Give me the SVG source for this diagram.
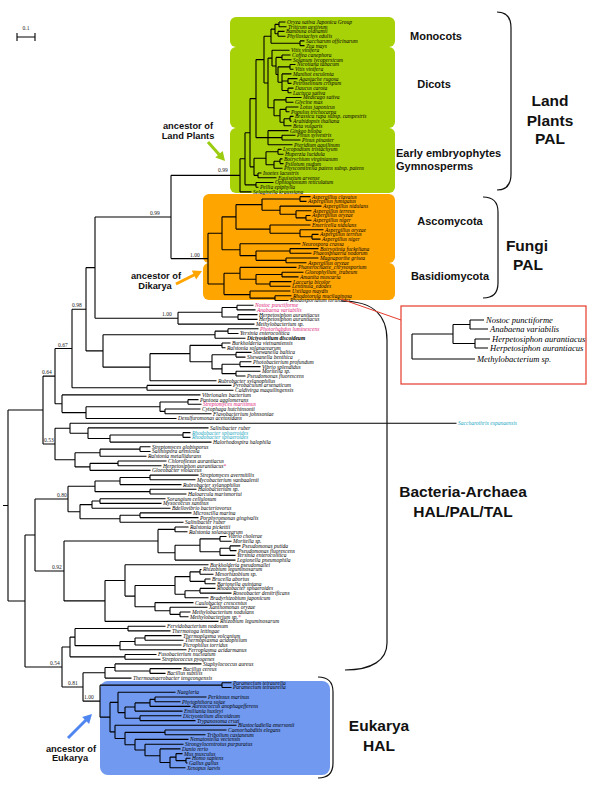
<svg xmlns="http://www.w3.org/2000/svg" width="600" height="786" viewBox="0 0 600 786">
<style>
.ln{fill:none;stroke:#000;stroke-width:1.1}
.lf{font-family:"Liberation Serif","Times New Roman",serif;font-style:italic;font-size:5.5px;fill:#000}
.pk{fill:#e0247a}
.cy{fill:#1aa7c2}
.bs{font-family:"Liberation Serif","Times New Roman",serif;font-size:5.5px;fill:#222}
.cl{font-family:"Liberation Sans",Arial,sans-serif;font-weight:bold;font-size:11px;fill:#111}
.big{font-family:"Liberation Sans",Arial,sans-serif;font-weight:bold;font-size:15.5px;fill:#111;text-anchor:middle}
.anc{font-family:"Liberation Sans",Arial,sans-serif;font-weight:bold;font-size:9.3px;fill:#111;text-anchor:middle}
.br{fill:none;stroke:#111;stroke-width:1.2}
.in{font-family:"Liberation Serif","Times New Roman",serif;font-style:italic;font-size:8.5px;fill:#000}
</style>
<rect width="600" height="786" fill="#fff"/>
<g id="boxes">
<rect x="230" y="17" width="165" height="30" rx="6" fill="#a8d208"/>
<rect x="230" y="47" width="165" height="81" rx="6" fill="#a8d208"/>
<rect x="230" y="128" width="165" height="65" rx="6" fill="#a8d208"/>
<rect x="203" y="194" width="192" height="69" rx="6" fill="#ffa500"/>
<rect x="203" y="263" width="192" height="37" rx="6" fill="#ffa500"/>
<rect x="100" y="681" width="230" height="94" rx="8" fill="#7099ef"/>
</g>
<g id="scale">
<path class="ln" d="M17 37H35M17 33V41M35 33V41"/>
<text class="bs" x="26" y="30" text-anchor="middle">0.1</text>
</g>
<g id="connectors">
<path class="ln" d="M279 22V26.7M279 22H285.5M279 26.7H286.5M278 31.4V36.2M278 31.4H284.5M278 36.2H285.5M275 24.35V33.8M275 24.35H279M275 33.8H278M300 40.9V45.6M300 40.9H304.5M300 45.6H304.5M271 29.1V43.25M271 29.1H275M271 43.25H300M282 55V59.8M282 55H290.5M282 59.8H291.5M290 64.5V69.2M290 64.5H295.5M290 69.2H293.5M288 78.6V83.4M288 78.6H297.5M288 83.4H291.5M288 88.1V92.8M288 88.1H293.5M288 92.8H291.5M282 73.9V90.45M282 73.9H291.5M282 81H288M282 90.45H288M278 66.85V82.2M278 66.85H290M278 82.2H282M276 57.4V74.5M276 57.4H282M276 74.5H278M272 50.3V65.95M272 50.3H289.5M272 65.95H276M286 97.5V102.2M286 97.5H301.5M286 102.2H293.5M286 107V111.7M286 107H298.5M286 111.7H289.5M290 116.4V121.1M290 116.4H293.5M290 121.1H291.5M284 118.75V125.8M284 118.75H290M284 125.8H291.5M280 109.35V122.3M280 109.35H286M280 122.3H284M274 99.85V115.8M274 99.85H286M274 115.8H280M268 58.1V107.8M268 58.1H272M268 107.8H274M264 36.2V82.95M264 36.2H271M264 82.95H268M282 135.3V140M282 135.3H295.5M282 140H300.5M268 130.6V144.7M268 130.6H288.5M268 137.65H282M268 144.7H292.5M256 59.6V137.65M256 59.6H264M256 137.65H268M278 149.4V154.2M278 149.4H281.5M278 154.2H283.5M280 158.9V163.6M280 158.9H282.5M280 163.6H283.5M274 161.25V168.3M274 161.25H280M274 168.3H282.5M266 151.8V164.8M266 151.8H278M266 164.8H274M258 173V177.8M258 173H261.5M258 177.8H276.5M254 158.3V175.4M254 158.3H266M254 175.4H258M250 98.6V166.85M250 98.6H256M250 166.85H254M256 182.5V187.2M256 182.5H273.5M256 187.2H258.5M245 132.7V184.85M245 132.7H250M245 184.85H256M240 158.8V191.9M240 158.8H245M240 191.9H251.5"/>
<path class="ln" d="M300 196.6V201.4M300 196.6H310.5M300 201.4H306.5M306 215.5V220.2M306 215.5H310.5M306 220.2H311.5M296 210.8V217.85M296 210.8H311.5M296 217.85H306M280 206.1V214.3M280 206.1H321.5M280 214.3H296M262 199V210.2M262 199H300M262 210.2H280M312 234.4V239.1M312 234.4H318.5M312 239.1H320.5M300 229.7V236.75M300 229.7H323.5M300 236.75H312M270 225V233.2M270 225H310.5M270 233.2H300M236 204.6V229.1M236 204.6H262M236 229.1H270M290 248.6V253.3M290 248.6H318.5M290 253.3H311.5M286 258V262.7M286 258H318.5M286 262.7H306.5M256 250.95V260.35M256 250.95H290M256 260.35H286M240 243.8V255.65M240 243.8H300.5M240 255.65H256M222 216.85V249.7M222 216.85H236M222 249.7H240M282 272.2V276.9M282 272.2H303.5M282 276.9H298.5M270 281.6V286.3M270 281.6H291.5M270 286.3H290.5M256 274.55V283.95M256 274.55H282M256 283.95H270M240 267.4V279.25M240 267.4H296.5M240 279.25H256M275 295.8V300.5M275 295.8H291.5M275 300.5H288.5M250 291V298.15M250 291H290.5M250 298.15H275M224 273.3V294.6M224 273.3H240M224 294.6H250M208 233.3V283.95M208 233.3H222M208 283.95H224M171 175.35V258.6M171 175.35H240M171 258.6H208"/>
<path class="ln" d="M237 305.2V309.9M237 305.2H253.5M237 309.9H255.5M238 314.6V319.4M238 314.6H257.5M238 319.4H257.5M222 307.55V317M222 307.55H237M222 317H238M178 312.3V324.1M178 312.3H222M178 324.1H254.5M95 216.98V318.2M95 216.98H171M95 318.2H178M228 328.8V333.5M228 328.8H258.5M228 333.5H238.5M215 331.15V338.2M215 331.15H228M215 338.2H245.5M222 343V347.7M222 343H230.5M222 347.7H225.5M236 352.4V357.1M236 352.4H251.5M236 357.1H245.5M240 361.8V366.6M240 361.8H251.5M240 366.6H260.5M236 371.3V376M236 371.3H260.5M236 376H245.5M222 364.2V373.65M222 364.2H240M222 373.65H236M212 354.75V368.9M212 354.75H236M212 368.9H222M190 345.35V361.8M190 345.35H222M190 361.8H212M150 353.6V380.7M150 353.6H190M150 380.7H216.5M103 334.7V367.15M103 334.7H215M103 367.15H150M86 267.6V350.9M86 267.6H95M86 350.9H103M147 385.4V390.2M147 385.4H231.5M147 390.2H233.5M72 309.25V387.8M72 309.25H86M72 387.8H147M188 399.6V404.3M188 399.6H198.5M188 404.3H201.5M165 409V413.8M165 409H200.5M165 413.8H211.5M160 401.95V411.4M160 401.95H188M160 411.4H165M86 406.7V418.5M86 406.7H160M86 418.5H176.5M62 394.9V412.6M62 394.9H200.5M62 412.6H86M55 348.5V403.75M55 348.5H72M55 403.75H62M183 432.6V437.4M183 432.6H190.5M183 437.4H190.5M110 435V442.1M110 435H183M110 442.1H211.5M88 427.9V438.55M88 427.9H208.5M88 438.55H110M70 423.2V433.2M70 423.2H456.5M70 433.2H88M140 446.8V451.5M140 446.8H150.5M140 451.5H150.5M100 449.15V456.2M100 449.15H140M100 456.2H146.5M118 461V465.7M118 461H166.5M118 465.7H161.5M90 463.35V470.4M90 463.35H118M90 470.4H150.5M75 452.7V466.9M75 452.7H100M75 466.9H90M55 428.2V459.8M55 428.2H70M55 459.8H75M43 376.1V444M43 376.1H55M43 444H55"/>
<path class="ln" d="M150 475.1V479.8M150 475.1H198.5M150 479.8H195.5M120 477.45V484.6M120 477.45H150M120 484.6H181.5M150 489.3V494M150 489.3H196.5M150 494H186.5M95 481V491.65M95 481H120M95 491.65H150M100 498.7V503.4M100 498.7H165.5M100 503.4H161.5M92 501.05V508.2M92 501.05H100M92 508.2H170.5M140 512.9V517.6M140 512.9H191.5M140 517.6H198.5M120 515.25V522.3M120 515.25H140M120 522.3H183.5M80 504.6V518.8M80 504.6H92M80 518.8H120M68 486.3V511.7M68 486.3H95M68 511.7H80M175 527V531.8M175 527H188.5M175 531.8H187.5M220 536.5V541.2M220 536.5H226.5M220 541.2H231.5M230 545.9V550.6M230 545.9H240.5M230 550.6H236.5M220 548.25V555.4M220 548.25H230M220 555.4H235.5M200 538.85V551.8M200 538.85H220M200 551.8H220M175 545.3V560.1M175 545.3H200M175 560.1H235.5M158 529.4V552.7M158 529.4H175M158 552.7H175M200 569.5V574.2M200 569.5H201.5M200 574.2H213.5M205 579V583.7M205 579H210.5M205 583.7H215.5M190 571.85V581.35M190 571.85H200M190 581.35H205M200 588.4V593.1M200 588.4H215.5M200 593.1H231.5M185 590.75V597.8M185 590.75H200M185 597.8H208.5M175 576.6V594.3M175 576.6H190M175 594.3H185M180 612V616.7M180 612H190.5M180 616.7H188.5M170 607.3V614.35M170 607.3H207.5M170 614.35H180M155 602.6V610.8M155 602.6H193.5M155 610.8H170M135 585.45V606.7M135 585.45H175M135 606.7H155M125 564.8V596.1M125 564.8H208.5M125 596.1H135M105 580.45V621.4M105 580.45H125M105 621.4H218.5M64 541.05V600.9M64 541.05H158M64 600.9H105M35 499V571M35 499H68M35 571H64"/>
<path class="ln" d="M128 626.2V630.9M128 626.2H165.5M128 630.9H170.5M145 635.6V640.3M145 635.6H181.5M145 640.3H183.5M135 637.95V645M135 637.95H145M135 645H181.5M120 641.5V649.8M120 641.5H135M120 649.8H186.5M75 628.55V645.65M75 628.55H128M75 645.65H120M125 654.5V659.2M125 654.5H156.5M125 659.2H160.5M70 637.1V656.85M70 637.1H75M70 656.85H125M150 668.6V673.4M150 668.6H181.5M150 673.4H165.5M115 663.9V671M115 663.9H201.5M115 671H150M105 667.45V678.1M105 667.45H115M105 678.1H131.5M222 682.8V687.5M222 682.8H231.5M222 687.5H231.5M155 697V701.7M155 697H206.5M155 701.7H180.5M150 699.35V706.4M150 699.35H155M150 706.4H190.5M135 702.9V711.1M135 702.9H150M135 711.1H182.5M140 715.8V720.6M140 715.8H181.5M140 720.6H195.5M125 707V718.2M125 707H135M125 718.2H140M118 692.2V712.6M118 692.2H175.5M118 712.6H125M186 758.3V763M186 758.3H190.5M186 763H187.5M176 753.6V760.65M176 753.6H182.5M176 760.65H186M170 757.1V767.8M170 757.1H176M170 767.8H185.5M160 748.9V762.45M160 748.9H180.5M160 762.45H170M145 744.2V755.7M145 744.2H183.5M145 755.7H160M135 739.4V749.95M135 739.4H188.5M135 749.95H145M165 730V734.7M165 730H226.5M165 734.7H205.5M125 732.35V744.7M125 732.35H165M125 744.7H135M115 725.3V738.5M115 725.3H236.5M115 738.5H125M110 702.4V731.9M110 702.4H118M110 731.9H115M100 685.15V717.15M100 685.15H222M100 717.15H110M83 672.8V701.15M83 672.8H105M83 701.15H100M62 646.95V686.95M62 646.95H70M62 686.95H83M25 535V666.95M25 535H35M25 666.95H62M8 410.05V600.95M8 410.05H43M8 600.95H25M3 505.5H8"/>
</g>
<g id="support">
<text class="bs" x="218" y="172">0.99</text>
<text class="bs" x="150" y="214.5">0.99</text>
<text class="bs" x="190" y="256.5">1.00</text>
<text class="bs" x="162" y="315.5">1.00</text>
<text class="bs" x="72" y="307">0.98</text>
<text class="bs" x="58" y="346.5">0.67</text>
<text class="bs" x="42" y="374">0.64</text>
<text class="bs" x="44" y="442">0.53</text>
<text class="bs" x="57" y="497">0.80</text>
<text class="bs" x="52" y="569">0.92</text>
<text class="bs" x="50" y="665">0.54</text>
<text class="bs" x="68" y="685">0.81</text>
<text class="bs" x="84" y="699">1.00</text>
</g>
<g id="land-plants">
<text class="lf" x="287" y="23.9">Oryza sativa Japonica Group</text>
<text class="lf" x="288" y="28.6">Triticum aestivum</text>
<text class="lf" x="286" y="33.3">Bambusa oldhamii</text>
<text class="lf" x="287" y="38.1">Phyllostachys edulis</text>
<text class="lf" x="306" y="42.8">Saccharum officinarum</text>
<text class="lf" x="306" y="47.5">Zea mays</text>
<text class="lf" x="291" y="52.2">Vitis vinifera</text>
<text class="lf" x="292" y="56.9">Coffea canephora</text>
<text class="lf" x="293" y="61.7">Solanum lycopersicum</text>
<text class="lf" x="297" y="66.4">Nicotiana tabacum</text>
<text class="lf" x="295" y="71.1">Vitis vinifera</text>
<text class="lf" x="293" y="75.8">Manihot esculenta</text>
<text class="lf" x="299" y="80.5">Agastache rugosa</text>
<text class="lf" x="293" y="85.3">Petroselinum crispum</text>
<text class="lf" x="295" y="90">Daucus carota</text>
<text class="lf" x="293" y="94.7">Lactuca sativa</text>
<text class="lf" x="303" y="99.4">Medicago sativa</text>
<text class="lf" x="295" y="104.1">Glycine max</text>
<text class="lf" x="300" y="108.9">Lotus japonicus</text>
<text class="lf" x="291" y="113.6">Populus trichocarpa</text>
<text class="lf" x="295" y="118.3">Brassica rapa subsp. campestris</text>
<text class="lf" x="293" y="123">Arabidopsis thaliana</text>
<text class="lf" x="293" y="127.7">Beta vulgaris</text>
<text class="lf" x="290" y="132.5">Ginkgo biloba</text>
<text class="lf" x="297" y="137.2">Pinus sylvestris</text>
<text class="lf" x="302" y="141.9">Pinus pinaster</text>
<text class="lf" x="294" y="146.6">Pteridium aquilinum</text>
<text class="lf" x="283" y="151.3">Lycopodium tristachyum</text>
<text class="lf" x="285" y="156.1">Huperzia lucidula</text>
<text class="lf" x="284" y="160.8">Botrychium virginianum</text>
<text class="lf" x="285" y="165.5">Psilotum nudum</text>
<text class="lf" x="284" y="170.2">Physcomitrella patens subsp. patens</text>
<text class="lf" x="263" y="174.9">Isoetes lacustris</text>
<text class="lf" x="278" y="179.7">Equisetum arvense</text>
<text class="lf" x="275" y="184.4">Ophioglossum reticulatum</text>
<text class="lf" x="260" y="189.1">Pellia epiphylla</text>
<text class="lf" x="253" y="193.8">Selaginella kraussiana</text>
<text class="cl" x="436" y="40" text-anchor="middle">Monocots</text>
<text class="cl" x="434" y="88" text-anchor="middle">Dicots</text>
<text class="cl" x="396" y="157">Early embryophytes</text>
<text class="cl" x="396" y="170">Gymnosperms</text>
<path class="br" d="M497 12Q511 12 511 28V174Q511 190 497 190"/>
<text class="big" x="550" y="105.5">Land</text>
<text class="big" x="550" y="125.5">Plants</text>
<text class="big" x="550" y="143.5">PAL</text>
<text class="anc" x="188" y="128.5">ancestor of</text>
<text class="anc" x="188" y="139">Land Plants</text>
<path d="M208 142L220 155.5" stroke="#9ccc10" stroke-width="3" fill="none"/>
<polygon points="225,161 222.7,151 215.3,157.6" fill="#9ccc10"/>
</g>
<g id="fungi">
<text class="lf" x="312" y="198.5">Aspergillus clavatus</text>
<text class="lf" x="308" y="203.3">Aspergillus fumigatus</text>
<text class="lf" x="323" y="208">Aspergillus nidulans</text>
<text class="lf" x="313" y="212.7">Aspergillus terreus</text>
<text class="lf" x="312" y="217.4">Aspergillus oryzae</text>
<text class="lf" x="313" y="222.1">Aspergillus niger</text>
<text class="lf" x="312" y="226.9">Emericella nidulans</text>
<text class="lf" x="325" y="231.6">Aspergillus oryzae</text>
<text class="lf" x="320" y="236.3">Aspergillus terreus</text>
<text class="lf" x="322" y="241">Aspergillus niger</text>
<text class="lf" x="302" y="245.7">Neurospora crassa</text>
<text class="lf" x="320" y="250.5">Botryotinia fuckeliana</text>
<text class="lf" x="313" y="255.2">Phaeosphaeria nodorum</text>
<text class="lf" x="320" y="259.9">Magnaporthe grisea</text>
<text class="lf" x="308" y="264.6">Aspergillus oryzae</text>
<text class="lf" x="298" y="269.3">Phanerochaete_chrysosporium</text>
<text class="lf" x="305" y="274.1">Gloeophyllum_trabeum</text>
<text class="lf" x="300" y="278.8">Amanita muscaria</text>
<text class="lf" x="293" y="283.5">Laccaria bicolor</text>
<text class="lf" x="292" y="288.2">Lentinula_edodes</text>
<text class="lf" x="292" y="292.9">Ustilago maydis</text>
<text class="lf" x="293" y="297.7">Rhodotorula mucilaginosa</text>
<text class="lf" x="290" y="302.4">Rhodosporidium toruloides</text>
<text class="cl" x="450" y="225" text-anchor="middle">Ascomycota</text>
<text class="cl" x="450" y="280" text-anchor="middle">Basidiomycota</text>
<path class="br" d="M483 197Q498 197 498 212V283Q498 298 483 298"/>
<text class="big" x="527" y="250.5">Fungi</text>
<text class="big" x="528" y="269.5">PAL</text>
<text class="anc" x="156" y="278.5">ancestor of</text>
<text class="anc" x="155" y="288.5">Dikarya</text>
<path d="M176 284L195 274.5" stroke="#ffa500" stroke-width="3" fill="none"/>
<polygon points="202,271 196.2,279.5 191.8,270.5" fill="#ffa500"/>
</g>
<g id="bacteria">
<text class="lf pk" x="255" y="307.1">Nostoc punctiforme</text>
<text class="lf pk" x="257" y="311.8">Anabaena variabilis</text>
<text class="lf" x="259" y="316.5">Herpetosiphon aurantiacus</text>
<text class="lf" x="259" y="321.3">Herpetosiphon aurantiacus</text>
<text class="lf" x="256" y="326">Methylobacterium sp.</text>
<text class="lf pk" x="260" y="330.7">Photorhabdus luminescens</text>
<text class="lf" x="240" y="335.4">Yersinia enterocolitica</text>
<text class="lf" x="247" y="340.1" font-weight="bold">Dictyostelium discoideum</text>
<text class="lf" x="232" y="344.9">Burkholderia vietnamiensis</text>
<text class="lf" x="227" y="349.6">Ralstonia solanacearum</text>
<text class="lf" x="253" y="354.3">Shewanella baltica</text>
<text class="lf" x="247" y="359">Shewanella benthica</text>
<text class="lf" x="253" y="363.7">Photobacterium profundum</text>
<text class="lf" x="262" y="368.5">Vibrio splendidus</text>
<text class="lf" x="262" y="373.2">Moritella sp.</text>
<text class="lf" x="247" y="377.9">Pseudomonas fluorescens</text>
<text class="lf" x="218" y="382.6">Rubrobacter xylanophilus</text>
<text class="lf" x="233" y="387.3">Pyrobaculum arsenaticum</text>
<text class="lf" x="235" y="392.1">Caldivirga maquilingensis</text>
<text class="lf" x="202" y="396.8">Vibrionales bacterium</text>
<text class="lf" x="200" y="401.5">Pantoea agglomerans</text>
<text class="lf pk" x="203" y="406.2">Streptomyces maritimus</text>
<text class="lf" x="202" y="410.9">Cytophaga hutchinsonii</text>
<text class="lf" x="213" y="415.7">Flavobacterium johnsoniae</text>
<text class="lf" x="178" y="420.4">Desulfuromonas acetoxidans</text>
<text class="lf cy" x="458" y="425.1">Saccharothrix espanaensis</text>
<text class="lf" x="210" y="429.8">Salinibacter ruber</text>
<text class="lf cy" x="192" y="434.5">Rhodobacter sphaeroides</text>
<text class="lf cy" x="192" y="439.3">Rhodobacter sphaeroides</text>
<text class="lf" x="213" y="444">Halorhodospira halophila</text>
<text class="lf" x="152" y="448.7">Streptomyces globisporus</text>
<text class="lf" x="152" y="453.4">Salinispora arenicola</text>
<text class="lf" x="148" y="458.1">Ralstonia metallidurans</text>
<text class="lf" x="168" y="462.9">Chloroflexus aurantiacus</text>
<text class="lf" x="163" y="467.6">Herpetosiphon aurantiacus<tspan fill="#e0247a">*</tspan></text>
<text class="lf" x="152" y="472.3">Gloeobacter violaceus</text>
<text class="lf" x="200" y="477">Streptomyces avermitilis</text>
<text class="lf" x="197" y="481.7">Mycobacterium vanbaalenii</text>
<text class="lf" x="183" y="486.5">Rubrobacter xylanophilus</text>
<text class="lf" x="198" y="491.2">Halobacterium sp.</text>
<text class="lf" x="188" y="495.9">Haloarcula marismortui</text>
<text class="lf" x="167" y="500.6">Sorangium cellulosum</text>
<text class="lf" x="163" y="505.3">Myxococcus xanthus</text>
<text class="lf" x="172" y="510.1">Bdellovibrio bacteriovorus</text>
<text class="lf" x="193" y="514.8">Microscilla marina</text>
<text class="lf" x="200" y="519.5">Porphyromonas gingivalis</text>
<text class="lf" x="185" y="524.2">Salinibacter ruber</text>
<text class="lf" x="190" y="528.9">Ralstonia pickettii</text>
<text class="lf" x="189" y="533.7">Ralstonia solanacearum</text>
<text class="lf" x="228" y="538.4">Vibrio cholerae</text>
<text class="lf" x="233" y="543.1">Moritella sp.</text>
<text class="lf" x="242" y="547.8">Pseudomonas putida</text>
<text class="lf" x="238" y="552.5">Pseudomonas fluorescens</text>
<text class="lf" x="237" y="557.3">Yersinia enterocolitica</text>
<text class="lf" x="237" y="562">Legionella pneumophila</text>
<text class="lf" x="210" y="566.7">Burkholderia pseudomallei</text>
<text class="lf" x="203" y="571.4">Rhizobium leguminosarum</text>
<text class="lf" x="215" y="576.1">Mesorhizobium sp.</text>
<text class="lf" x="212" y="580.9">Brucella abortus</text>
<text class="lf" x="217" y="585.6">Bartonella quintana</text>
<text class="lf" x="217" y="590.3">Rhodobacter sphaeroides</text>
<text class="lf" x="233" y="595">Roseobacter denitrificans</text>
<text class="lf" x="210" y="599.7">Bradyrhizobium japonicum</text>
<text class="lf" x="195" y="604.5">Caulobacter crescentus</text>
<text class="lf" x="209" y="609.2">Xanthomonas oryzae</text>
<text class="lf" x="192" y="613.9">Methylobacterium nodulans</text>
<text class="lf" x="190" y="618.6">Methylobacterium sp.<tspan fill="#e0247a">*</tspan></text>
<text class="lf" x="220" y="623.3">Rhizobium leguminosarum</text>
<text class="lf" x="167" y="628.1">Fervidobacterium nodosum</text>
<text class="lf" x="172" y="632.8">Thermotoga lettingae</text>
<text class="lf" x="183" y="637.5">Thermoplasma volcanium</text>
<text class="lf" x="185" y="642.2">Thermoplasma acidophilum</text>
<text class="lf" x="183" y="646.9">Picrophilus torridus</text>
<text class="lf" x="188" y="651.7">Ferroplasma acidarmanus</text>
<text class="lf" x="158" y="656.4">Fusobacterium nucleatum</text>
<text class="lf" x="162" y="661.1">Streptococcus pyogenes</text>
<text class="lf" x="203" y="665.8">Staphylococcus aureus</text>
<text class="lf" x="183" y="670.5">Bacillus cereus</text>
<text class="lf" x="167" y="675.3">Bacillus subtilis</text>
<text class="lf" x="133" y="680">Thermoanaerobacter tengcongensis</text>
<path class="br" d="M341 301C375 301 387 316 387 340V643C387 660 372 670 345 670"/>
<text class="big" x="463" y="497">Bacteria-Archaea</text>
<text class="big" x="463" y="517">HAL/PAL/TAL</text>
<path d="M492 334H479" stroke="#d946d9" stroke-width="1.3"/>
<polygon points="472,334 480,330.5 480,337.5" fill="#d946d9"/>
</g>
<g id="inset">
<path d="M341 299L401 320" stroke="#e53b2b" stroke-width="1"/>
<rect x="401" y="306" width="185" height="78" fill="#fff" stroke="#e53b2b" stroke-width="1.2"/>
<path class="ln" d="M470 320V329M470 320H484M470 329H488M475 339V348M475 339H490M475 348H488M453 324.5V343.5M453 324.5H470M453 343.5H475M412 334V359M412 334H453M412 359H475"/>
<text class="in pk" x="486" y="323">Nostoc punctiforme</text>
<text class="in pk" x="490" y="332">Anabaena variabilis</text>
<text class="in" x="492" y="342">Herpetosiphon aurantiacus</text>
<text class="in" x="490" y="351">Herpetosiphon aurantiacus</text>
<text class="in" x="477" y="362">Methylobacterium sp.</text>
</g>
<g id="eukarya">
<text class="lf" x="233" y="684.7">Paramecium tetraurelia</text>
<text class="lf" x="233" y="689.4">Paramecium tetraurelia</text>
<text class="lf" x="177" y="694.1">Naegleria</text>
<text class="lf" x="208" y="698.9">Perkinsus marinus</text>
<text class="lf" x="182" y="703.6">Phytophthora sojae</text>
<text class="lf" x="192" y="708.3">Aureococcus anophagefferens</text>
<text class="lf" x="184" y="713">Emiliania huxleyi</text>
<text class="lf" x="183" y="717.7">Dictyostelium discoideum</text>
<text class="lf" x="197" y="722.5">Trypanosoma cruzi</text>
<text class="lf" x="238" y="727.2">Blastocladiella emersonii</text>
<text class="lf" x="228" y="731.9">Caenorhabditis elegans</text>
<text class="lf" x="207" y="736.6">Tribolium castaneum</text>
<text class="lf" x="190" y="741.3">Nematostella vectensis</text>
<text class="lf" x="185" y="746.1">Strongylocentrotus purpuratus</text>
<text class="lf" x="182" y="750.8">Danio rerio</text>
<text class="lf" x="184" y="755.5">Mus musculus</text>
<text class="lf" x="192" y="760.2">Homo sapiens</text>
<text class="lf" x="189" y="764.9">Gallus gallus</text>
<text class="lf" x="187" y="769.7">Xenopus laevis</text>
<path class="br" d="M318 677Q333 677 333 692V763Q333 778 318 778"/>
<text class="big" x="379" y="731">Eukarya</text>
<text class="big" x="379" y="750.5">HAL</text>
<text class="anc" x="71" y="751.5">ancestor of</text>
<text class="anc" x="70" y="761">Eukarya</text>
<path d="M68 738L86 720" stroke="#4f86f0" stroke-width="3" fill="none"/>
<polygon points="92,714 89.1,723.9 82.1,716.9" fill="#4f86f0"/>
</g>
</svg>
